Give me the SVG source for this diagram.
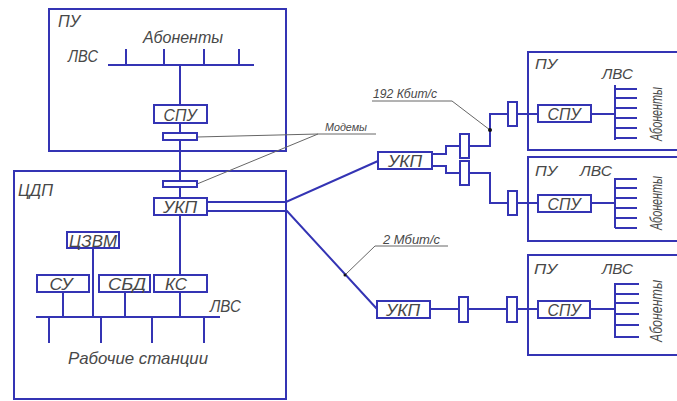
<svg xmlns="http://www.w3.org/2000/svg" width="677" height="401" viewBox="0 0 677 401">
<style>
.ln{stroke:#3434b4;stroke-width:2;fill:none}
.bx{fill:#fff;stroke:#3434b4;stroke-width:2}
.fr{fill:none;stroke:#3434b4;stroke-width:2}
.ld{stroke:#666;stroke-width:1;fill:none}
.t{font-family:"Liberation Sans",Arial,sans-serif;font-style:italic;fill:#484848}
.c{text-anchor:middle}
.b{font-size:17px}
</style>
<rect width="677" height="401" fill="#fff"/>
<!-- frames -->
<g id="pu-top">
<rect class="fr" x="49" y="9" width="237" height="142"/>
<text class="t" x="58" y="27" font-size="16" textLength="22" lengthAdjust="spacingAndGlyphs">ПУ</text>
<text class="t c" x="183" y="43" font-size="17" textLength="80" lengthAdjust="spacingAndGlyphs">Абоненты</text>
<text class="t" x="68" y="62" font-size="16" textLength="30" lengthAdjust="spacingAndGlyphs">ЛВС</text>
</g>
<g id="cdp">
<rect class="fr" x="14" y="171" width="272" height="228"/>
<text class="t" x="18" y="196" font-size="16" textLength="35" lengthAdjust="spacingAndGlyphs">ЦДП</text>
<text class="t" x="210" y="312" font-size="16" textLength="31" lengthAdjust="spacingAndGlyphs">ЛВС</text>
<text class="t" x="68" y="364" font-size="17" textLength="140" lengthAdjust="spacingAndGlyphs">Рабочие станции</text>
</g>
<g id="pu-r1">
<rect class="fr" x="528" y="52" width="170" height="98"/>
<text class="t" x="535" y="69" font-size="15" textLength="22" lengthAdjust="spacingAndGlyphs">ПУ</text>
<text class="t" x="602" y="79" font-size="15" textLength="31" lengthAdjust="spacingAndGlyphs">ЛВС</text>
<text class="t c" transform="translate(662,114) rotate(-90)" font-size="17" textLength="54" lengthAdjust="spacingAndGlyphs">Абоненты</text>
</g>
<g id="pu-r2">
<rect class="fr" x="528" y="157" width="170" height="84"/>
<text class="t" x="535" y="176" font-size="15" textLength="22" lengthAdjust="spacingAndGlyphs">ПУ</text>
<text class="t" x="580" y="176" font-size="15" textLength="32" lengthAdjust="spacingAndGlyphs">ЛВС</text>
<text class="t c" transform="translate(662,203) rotate(-90)" font-size="17" textLength="54" lengthAdjust="spacingAndGlyphs">Абоненты</text>
</g>
<g id="pu-r3">
<rect class="fr" x="528" y="255" width="170" height="100"/>
<text class="t" x="534" y="274" font-size="15" textLength="23" lengthAdjust="spacingAndGlyphs">ПУ</text>
<text class="t" x="602" y="274" font-size="15" textLength="31" lengthAdjust="spacingAndGlyphs">ЛВС</text>
<text class="t c" transform="translate(662,311) rotate(-90)" font-size="17" textLength="62" lengthAdjust="spacingAndGlyphs">Абоненты</text>
</g>
<!-- connectors -->
<g id="connectors">
<path class="ln" d="M108 65H254M126 49V65M164 49V65M204 49V65M239 49V65"/>
<path class="ln" d="M180 65V317"/>
<path class="ln" d="M36 317H220M49 317V343M101 317V343M152 317V343M204 317V343"/>
<path class="ln" d="M63 292V317M93 248V317M125 292V317"/>
<path class="ln" d="M207 202H286L378 161"/>
<path class="ln" d="M207 211H287L377 309"/>
<path class="ln" d="M432 154H446V146H460M469 146H490V114H508M517 114H538M591 114H615"/>
<path class="ln" d="M432 166H446V173H460M469 173H490V203H508M517 203H538M591 203H615"/>
<path class="ln" d="M430 309H459M468 309H507M517 309H538M590 309H615"/>
<path class="ln" d="M615 85V140M615 89H637M615 98H637M615 108H637M615 118H637M615 128H637M615 138H637"/>
<path class="ln" d="M615 178V228M615 179H637M615 188H637M615 198H637M615 208H637M615 218H637M615 228H637"/>
<path class="ln" d="M615 283V338M615 284H639M615 294H639M615 303H639M615 314H639M615 325H639M615 337H639"/>
<path class="ld" d="M197 137L318 134H376M318 134L197 184"/>
<path class="ld" d="M490 130L452 101H372"/>
<path class="ld" d="M345 275L375 246H448"/>
<circle cx="490" cy="130" r="2" fill="#111"/>
<circle cx="345" cy="275" r="1.5" fill="#111"/>
<text class="t" x="325" y="131" font-size="11" textLength="42" lengthAdjust="spacingAndGlyphs">Модемы</text>
<text class="t" x="373" y="98" font-size="12" textLength="64" lengthAdjust="spacingAndGlyphs">192 Кбит/с</text>
<text class="t" x="383" y="244" font-size="12" textLength="57" lengthAdjust="spacingAndGlyphs">2 Мбит/с</text>
</g>
<!-- nodes -->
<g id="spu-top"><rect class="bx" x="154" y="105" width="53" height="18"/><text class="t c b" x="180" y="120.5" textLength="33" lengthAdjust="spacingAndGlyphs">СПУ</text></g>
<g id="modem-1"><rect class="bx" x="163" y="133" width="34" height="7"/></g>
<g id="modem-2"><rect class="bx" x="163" y="181" width="34" height="6"/></g>
<g id="ukp-cdp"><rect class="bx" x="154" y="198" width="53" height="17"/><text class="t c b" x="180" y="213" textLength="34" lengthAdjust="spacingAndGlyphs">УКП</text></g>
<g id="czvm"><rect class="bx" x="67" y="232" width="52" height="16"/><text class="t c b" x="93" y="246.5" textLength="48" lengthAdjust="spacingAndGlyphs">ЦЗВМ</text></g>
<g id="su"><rect class="bx" x="37" y="275" width="52" height="17"/><text class="t c b" x="61" y="290" textLength="23" lengthAdjust="spacingAndGlyphs">СУ</text></g>
<g id="sbd"><rect class="bx" x="99" y="275" width="51" height="17"/><text class="t c b" x="127" y="290" textLength="38" lengthAdjust="spacingAndGlyphs">СБД</text></g>
<g id="ks"><rect class="bx" x="154" y="275" width="53" height="17"/><text class="t c b" x="176" y="290" textLength="22" lengthAdjust="spacingAndGlyphs">КС</text></g>
<g id="ukp-2"><rect class="bx" x="378" y="152" width="54" height="17"/><text class="t c b" x="405" y="167" textLength="34" lengthAdjust="spacingAndGlyphs">УКП</text></g>
<g id="ukp-3"><rect class="bx" x="377" y="301" width="53" height="17"/><text class="t c b" x="403" y="316" textLength="34" lengthAdjust="spacingAndGlyphs">УКП</text></g>
<g id="m-a1"><rect class="bx" x="460" y="134" width="9" height="24"/></g>
<g id="m-a2"><rect class="bx" x="460" y="161" width="9" height="24"/></g>
<g id="m-b1"><rect class="bx" x="508" y="102" width="9" height="24"/></g>
<g id="m-b2"><rect class="bx" x="508" y="191" width="9" height="24"/></g>
<g id="m-c1"><rect class="bx" x="459" y="297" width="9" height="25"/></g>
<g id="m-c2"><rect class="bx" x="507" y="297" width="10" height="25"/></g>
<g id="spu-r1"><rect class="bx" x="538" y="105" width="53" height="17"/><text class="t c b" x="564" y="120" textLength="33" lengthAdjust="spacingAndGlyphs">СПУ</text></g>
<g id="spu-r2"><rect class="bx" x="538" y="195" width="53" height="17"/><text class="t c b" x="564" y="210" textLength="33" lengthAdjust="spacingAndGlyphs">СПУ</text></g>
<g id="spu-r3"><rect class="bx" x="538" y="301" width="52" height="17"/><text class="t c b" x="564" y="316" textLength="33" lengthAdjust="spacingAndGlyphs">СПУ</text></g>
</svg>
